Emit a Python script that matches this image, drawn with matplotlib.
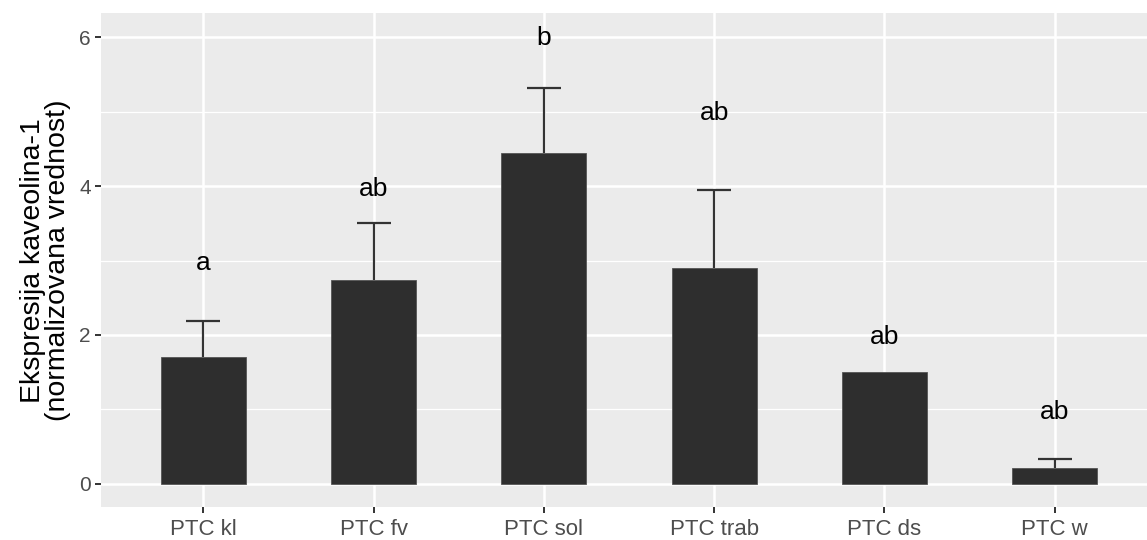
import numpy as np
import matplotlib.pyplot as plt
from matplotlib.ticker import MultipleLocator

plt.rcParams["font.family"] = ["Liberation Sans", "DejaVu Sans"]

# -------------------
# DATA
# -------------------
groups = ["PTC kl", "PTC fv", "PTC sol", "PTC trab", "PTC ds", "PTC w"]
means = [1.70, 2.74, 4.45, 2.90, 1.50, 0.22]
errors = [0.49, 0.76, 0.86, 1.05, 0.0, 0.12]
letters = ["a", "ab", "b", "ab", "ab", "ab"]
letter_y = [2.96, 3.96, 5.99, 4.98, 1.97, 0.96]

# -------------------
# PLOT
# -------------------
fig = plt.figure(figsize=(11.47, 5.40), dpi=100)
ax = fig.add_axes([0.0881, 0.0611, 0.9206, 0.9143])
ax.set_facecolor("#EBEBEB")

x = np.arange(1, len(groups) + 1)
m = np.array(means)
e = np.array(errors)
has_err = e > 0

# upper-only error bars (none drawn when the error is zero)
ax.vlines(x[has_err], m[has_err], (m + e)[has_err], color="#333333", lw=1.6, zorder=2)
ax.hlines((m + e)[has_err], x[has_err] - 0.1, x[has_err] + 0.1, color="#333333", lw=1.6, zorder=2)
ax.bar(x, means, width=0.5, color="#2E2E2E", edgecolor="#555555", lw=0.6, zorder=3)

for xi, lab, ly in zip(x, letters, letter_y):
    ax.text(xi, ly, lab, ha="center", va="center", fontsize=19, color="black", zorder=4)

ax.set_xlim(0.4, 6.6)
ax.set_ylim(-0.31, 6.32)
ax.set_xticks(x)
ax.set_xticklabels(groups)
ax.yaxis.set_major_locator(MultipleLocator(2))
ax.yaxis.set_minor_locator(MultipleLocator(1))

ax.grid(which="major", color="white", lw=1.8, zorder=0)
ax.grid(which="minor", axis="y", color="white", lw=0.9, zorder=0)
ax.set_axisbelow(True)
for s in ax.spines.values():
    s.set_visible(False)

ax.tick_params(which="major", length=4.3, width=1.4, color="#333333", labelcolor="#4D4D4D")
ax.tick_params(axis="x", labelsize=16, pad=4)
ax.tick_params(axis="y", labelsize=15, pad=3)
ax.tick_params(which="minor", length=0)

ax.set_ylabel("Ekspresija kaveolina-1\n(normalizovana vrednost)", fontsize=20.5, linespacing=0.95, labelpad=6)

fig.savefig("out.png", dpi=100)
